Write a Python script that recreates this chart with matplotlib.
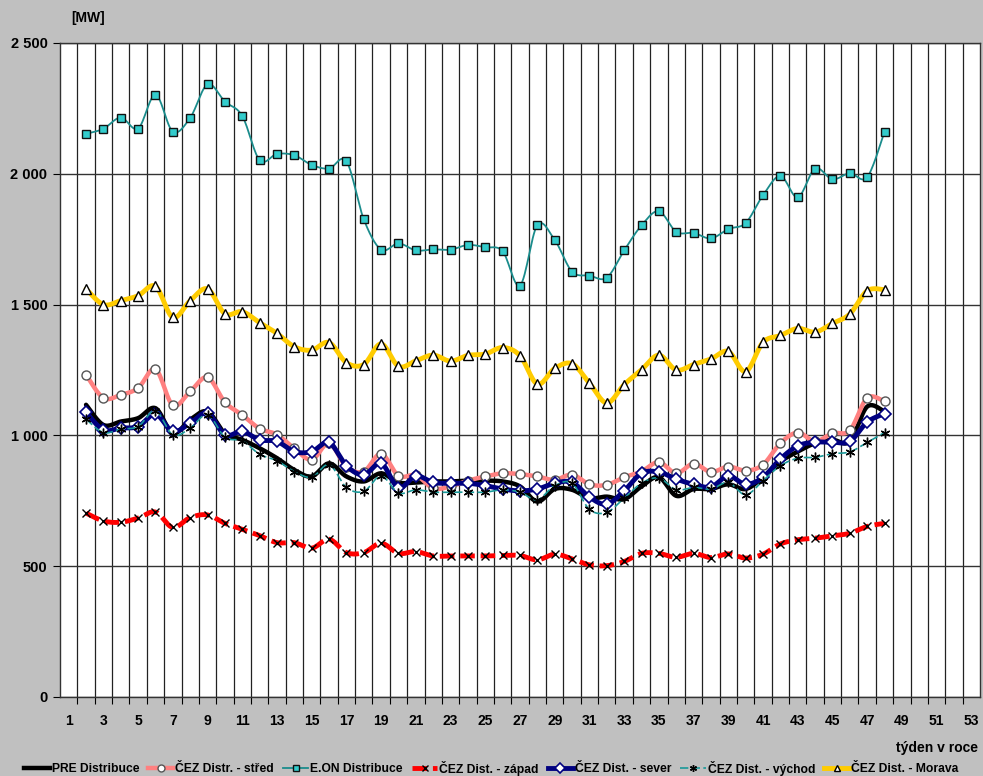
import numpy as np
import matplotlib
matplotlib.use('Agg')
import matplotlib.pyplot as plt
from matplotlib.ticker import FuncFormatter

weeks = list(range(2, 49))

pre = [1117, 1040, 1053, 1066, 1104, 1008, 1060, 1091, 1008, 983,
       951, 913, 868, 843, 893, 843, 824, 855, 820, 820,
       824, 824, 827, 827, 824, 805, 747, 795, 792, 760,
       766, 756, 805, 840, 769, 795, 795, 813, 795, 840,
       900, 938, 970, 983, 977, 1110, 1091]
stred = [1232, 1143, 1155, 1181, 1253, 1115, 1168, 1222, 1127, 1078,
         1026, 1003, 950, 907, 970, 880, 862, 930, 845, 848,
         798, 805, 827, 843, 855, 852, 843, 830, 850, 813,
         811, 840, 862, 898, 855, 892, 860, 881, 865, 888,
         970, 1011, 977, 1008, 1019, 1143, 1130]
eon = [2153, 2172, 2215, 2173, 2302, 2161, 2214, 2342, 2276, 2221,
       2052, 2076, 2071, 2034, 2020, 2048, 1826, 1710, 1734, 1707,
       1711, 1710, 1728, 1719, 1704, 1573, 1804, 1747, 1626, 1611,
       1603, 1707, 1803, 1857, 1778, 1774, 1753, 1789, 1812, 1918,
       1992, 1910, 2020, 1979, 2002, 1987, 2161]
zapad = [703, 673, 668, 684, 707, 648, 686, 696, 664, 641,
         617, 590, 590, 569, 603, 552, 552, 588, 549, 556,
         539, 539, 539, 539, 541, 541, 524, 546, 528, 505,
         502, 518, 549, 549, 534, 549, 533, 547, 531, 546,
         585, 601, 607, 616, 626, 652, 664]
sever = [1088, 1021, 1028, 1034, 1081, 1015, 1047, 1085, 1002, 1015,
         983, 977, 938, 938, 973, 884, 849, 893, 800, 845,
         820, 817, 817, 808, 795, 788, 795, 817, 821, 764,
         737, 788, 855, 860, 833, 813, 803, 845, 813, 840,
         910, 960, 974, 974, 977, 1051, 1083]
vychod = [1062, 1011, 1024, 1034, 1094, 1002, 1028, 1079, 993, 979,
          928, 903, 862, 840, 888, 801, 786, 845, 780, 792,
          783, 783, 783, 783, 792, 783, 754, 808, 817, 717,
          706, 760, 817, 837, 792, 801, 795, 820, 773, 827,
          884, 913, 916, 930, 937, 973, 1011]
morava = [1560, 1500, 1515, 1534, 1570, 1451, 1515, 1560, 1465, 1473,
          1431, 1390, 1339, 1326, 1355, 1278, 1271, 1350, 1264, 1285,
          1307, 1284, 1306, 1311, 1336, 1305, 1196, 1256, 1274, 1200,
          1124, 1194, 1251, 1307, 1250, 1271, 1292, 1321, 1244, 1356,
          1382, 1409, 1395, 1428, 1464, 1553, 1557]


def smooth(x, y, n=16):
    # Bezier smoothing through the points (Catmull-Rom style, like spreadsheet charts)
    p = np.column_stack([x, y]).astype(float)
    xs, ys = [], []
    t = np.linspace(0, 1, n)[:, None]
    for i in range(len(p) - 1):
        p0 = p[i - 1] if i > 0 else p[i]
        p1, p2 = p[i], p[i + 1]
        p3 = p[i + 2] if i + 2 < len(p) else p[i + 1]
        c1 = p1 + (p2 - p0) / 6
        c2 = p2 - (p3 - p1) / 6
        b = ((1 - t) ** 3 * p1 + 3 * (1 - t) ** 2 * t * c1
             + 3 * (1 - t) * t ** 2 * c2 + t ** 3 * p2)
        xs.extend(b[:, 0])
        ys.extend(b[:, 1])
    return xs, ys


plt.rcParams['font.family'] = ['Liberation Sans', 'DejaVu Sans']
plt.rcParams['font.weight'] = 'bold'

fig = plt.figure(figsize=(9.83, 7.76), dpi=100, facecolor='#C0C0C0')
ax = fig.add_axes([60 / 983, 79 / 776, 920 / 983, 654 / 776])
ax.set_facecolor('white')

series = [
    ('PRE Distribuce', pre, dict(color='black', lw=3.2), None),
    ('ČEZ Distr. - střed', stred, dict(color='#FF8080', lw=3.2),
     dict(marker='o', ms=6.5, mfc='white', mec='#555555', mew=1.0)),
    ('E.ON Distribuce', eon, dict(color='#1A8C8C', lw=1.3),
     dict(marker='s', ms=6, mfc='#33CCCC', mec='#111111', mew=1.0)),
    ('ČEZ Dist. - západ', zapad, dict(color='#FF0000', lw=3.5, dashes=(3, 1.2)),
     dict(marker='x', ms=6, mfc='none', mec='black', mew=1.0)),
    ('ČEZ Dist. - sever', sever, dict(color='#000080', lw=3.5),
     dict(marker='D', ms=6, mfc='white', mec='#000080', mew=1.2)),
    ('ČEZ Dist. - východ', vychod, dict(color='#1A9999', lw=1.2, dashes=(5, 2)),
     dict(marker=(6, 2, 0), ms=7, mfc='none', mec='black', mew=1.0)),
    ('ČEZ Dist. - Morava', morava, dict(color='#FFCC00', lw=3.5),
     dict(marker='^', ms=6.5, mfc='white', mec='black', mew=1.0)),
]

handles = []
for k, (name, vals, lstyle, mstyle) in enumerate(series):
    sx, sy = smooth(weeks, vals)
    ax.plot(sx, sy, zorder=3 + k * 2, solid_capstyle='round', **lstyle)
    if mstyle:
        ax.plot(weeks, vals, ls='none', zorder=4 + k * 2, **mstyle)
    legend_marker = dict(mstyle or {})
    if legend_marker:
        legend_marker['ms'] = 5
    h, = ax.plot([], [], **lstyle, **legend_marker)
    h.set_label(name)
    handles.append(h)

ax.set_xlim(0.5, 53.5)
ax.set_ylim(0, 2500)

ax.set_xticks(range(1, 54, 2))
ax.set_xticks(np.arange(1.5, 53.5, 1), minor=True)
ax.tick_params(axis='x', which='major', length=0, pad=12, labelsize=10)
ax.tick_params(axis='x', which='minor', length=5, width=0.8, direction='out')
ax.set_yticks(range(0, 2501, 500))
ax.yaxis.set_major_formatter(FuncFormatter(lambda v, p: f'{int(v):,}'.replace(',', ' ')))
ax.tick_params(axis='y', length=5, width=0.8, pad=4, labelsize=10.5)

ax.grid(True, axis='y', which='major', color='#333333', lw=1.0, zorder=1)
ax.grid(True, axis='x', which='minor', color='#222222', lw=0.9, zorder=1)
ax.set_axisbelow(True)
for s in ax.spines.values():
    s.set_color('#333333')
    s.set_linewidth(1.0)

fig.text(88 / 983, 1 - 18 / 776, '[MW]', ha='center', va='center', fontsize=10)
fig.text(978 / 983, 1 - 748 / 776, 'týden v roce', ha='right', va='center', fontsize=10)

fig.legend(handles=handles, loc='center', bbox_to_anchor=(0.5, 1 - 768 / 776),
           ncol=7, frameon=False, fontsize=8.7, handlelength=2.1, handletextpad=0.15,
           columnspacing=0.75, borderpad=0, borderaxespad=0)

fig.savefig('out.png', dpi=100, facecolor=fig.get_facecolor())
